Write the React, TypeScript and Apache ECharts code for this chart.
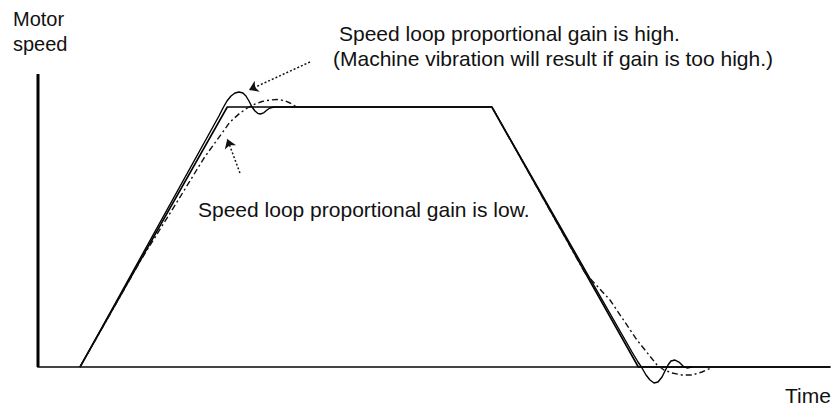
import React, { useEffect, useRef } from "react";
import * as echarts from "echarts";

// time axis 0..100 (arbitrary units), speed axis in % of commanded speed
const timeRange = [0, 100];
const speedRange = [0, 125];
const speedAxisTop = 112.7; // drawn height of the vertical axis

// commanded speed profile (trapezoid)
const commandSpeed: [number, number][] = [
  [5.3, 0], [23.9, 100], [57.3, 100], [75.8, 0], [100, 0],
];

// response with high proportional gain (overshoot / ringing)
const highGainSpeed: [number, number][] = [
  [5.3, 0], [22.22, 93.08], [22.85, 96.54], [23.36, 99.62], [23.86, 102.31],
  [24.37, 104.23], [24.87, 105.38], [25.38, 105.77], [25.88, 105.38], [26.26, 104.23],
  [26.64, 102.31], [27.02, 100.0], [27.4, 98.46], [27.78, 97.5], [28.16, 97.31],
  [28.54, 97.88], [28.91, 98.85], [29.29, 99.62], [29.8, 100], [57.32, 100],
  [73.99, 11.15], [75.0, 5.77], [75.76, 1.92], [76.26, -0.38], [76.77, -3.08],
  [77.27, -5.0], [77.78, -6.15], [78.28, -5.77], [78.79, -3.85], [79.17, -1.54],
  [79.55, 0.77], [79.92, 2.31], [80.43, 2.69], [80.93, 1.92], [81.44, 0.38],
  [81.94, -0.38], [82.58, 0],
];

// response with low proportional gain (lagging)
const lowGainSpeed: [number, number][] = [
  [5.3, 0], [13.0, 41.2], [17.7, 64.2], [20.96, 80.38], [24.24, 94.23], [25.51, 97.69],
  [26.52, 99.81], [27.4, 101.15], [28.28, 102.12], [29.29, 102.69], [30.18, 102.88],
  [31.06, 102.5], [31.82, 101.54], [32.45, 100.38], [32.95, 100], [57.32, 100],
  [69.07, 36.15], [72.22, 25.77], [75.63, 10.38], [78.16, 0.77], [79.04, -1.15],
  [80.05, -2.31], [81.31, -3.08], [82.58, -3.08], [83.84, -1.92], [85.23, 0],
];

// annotation arrows: [tail, head] in data coordinates
const highGainArrow: [number, number][] = [[34.34, 117.31], [26.64, 106.54]];
const lowGainArrow: [number, number][] = [[25.5, 74.6], [23.9, 87.7]];

const labels = {
  yTitle: ["Motor", "speed"],
  xTitle: "Time",
  high1: "Speed loop proportional gain is high.",
  high2: "(Machine vibration will result if gain is too high.)",
  low: "Speed loop proportional gain is low.",
};

const FONT = "'Liberation Sans', Arial, Helvetica, sans-serif";

export default function App() {
  const ref = useRef<HTMLDivElement>(null);
  useEffect(() => {
    if (!ref.current) return;
    const chart = echarts.init(ref.current, undefined, { renderer: "svg" });
    const arrowLine = (pts: [number, number][]) => ({
      silent: true,
      symbol: ["none", "arrow"],
      symbolSize: 9,
      label: { show: false },
      lineStyle: { color: "#111", width: 1.5, type: [2, 2] },
      emphasis: { disabled: true },
      data: [[{ coord: pts[0] }, { coord: pts[1] }]],
    });
    const textStyle = (size: number) => ({ fill: "#111", font: `${size}px ${FONT}` });
    chart.setOption({
      animation: false,
      grid: { left: 38, right: 7, top: 42, bottom: 45 },
      xAxis: {
        type: "value",
        min: timeRange[0],
        max: timeRange[1],
        axisLine: { show: true, lineStyle: { color: "#444", width: 2 } },
        axisTick: { show: false },
        axisLabel: { show: false },
        splitLine: { show: false },
      },
      yAxis: {
        type: "value",
        min: speedRange[0],
        max: speedRange[1],
        axisLine: { show: false },
        axisTick: { show: false },
        axisLabel: { show: false },
        splitLine: { show: false },
      },
      series: [
        {
          type: "line",
          data: [[0, 0], [0, speedAxisTop]],
          showSymbol: false,
          clip: false,
          silent: true,
          lineStyle: { color: "#000", width: 3 },
        },
        {
          type: "line",
          data: commandSpeed,
          showSymbol: false,
          clip: false,
          silent: true,
          lineStyle: { color: "#000", width: 1.6 },
          markLine: arrowLine(highGainArrow),
        },
        {
          type: "line",
          data: highGainSpeed,
          showSymbol: false,
          clip: false,
          silent: true,
          lineStyle: { color: "#000", width: 1.4 },
          markLine: arrowLine(lowGainArrow),
        },
        {
          type: "line",
          data: lowGainSpeed,
          showSymbol: false,
          clip: false,
          silent: true,
          lineStyle: { color: "#111", width: 1.4, type: [6, 3, 2, 3] },
        },
      ],
      graphic: [
        { type: "text", left: 13, top: 9, style: { text: labels.yTitle[0], ...textStyle(20) } },
        { type: "text", left: 13, top: 34, style: { text: labels.yTitle[1], ...textStyle(20) } },
        { type: "text", left: 785, top: 385, style: { text: labels.xTitle, ...textStyle(21) } },
        { type: "text", left: 339, top: 23, style: { text: labels.high1, ...textStyle(21) } },
        { type: "text", left: 333, top: 48, style: { text: labels.high2, ...textStyle(21) } },
        { type: "text", left: 198, top: 199, style: { text: labels.low, ...textStyle(21) } },
      ],
    });
    return () => chart.dispose();
  }, []);
  return (
    <div
      ref={ref}
      style={{ position: "fixed", left: 0, top: 0, width: 837, height: 412, background: "#fff" }}
    />
  );
}
